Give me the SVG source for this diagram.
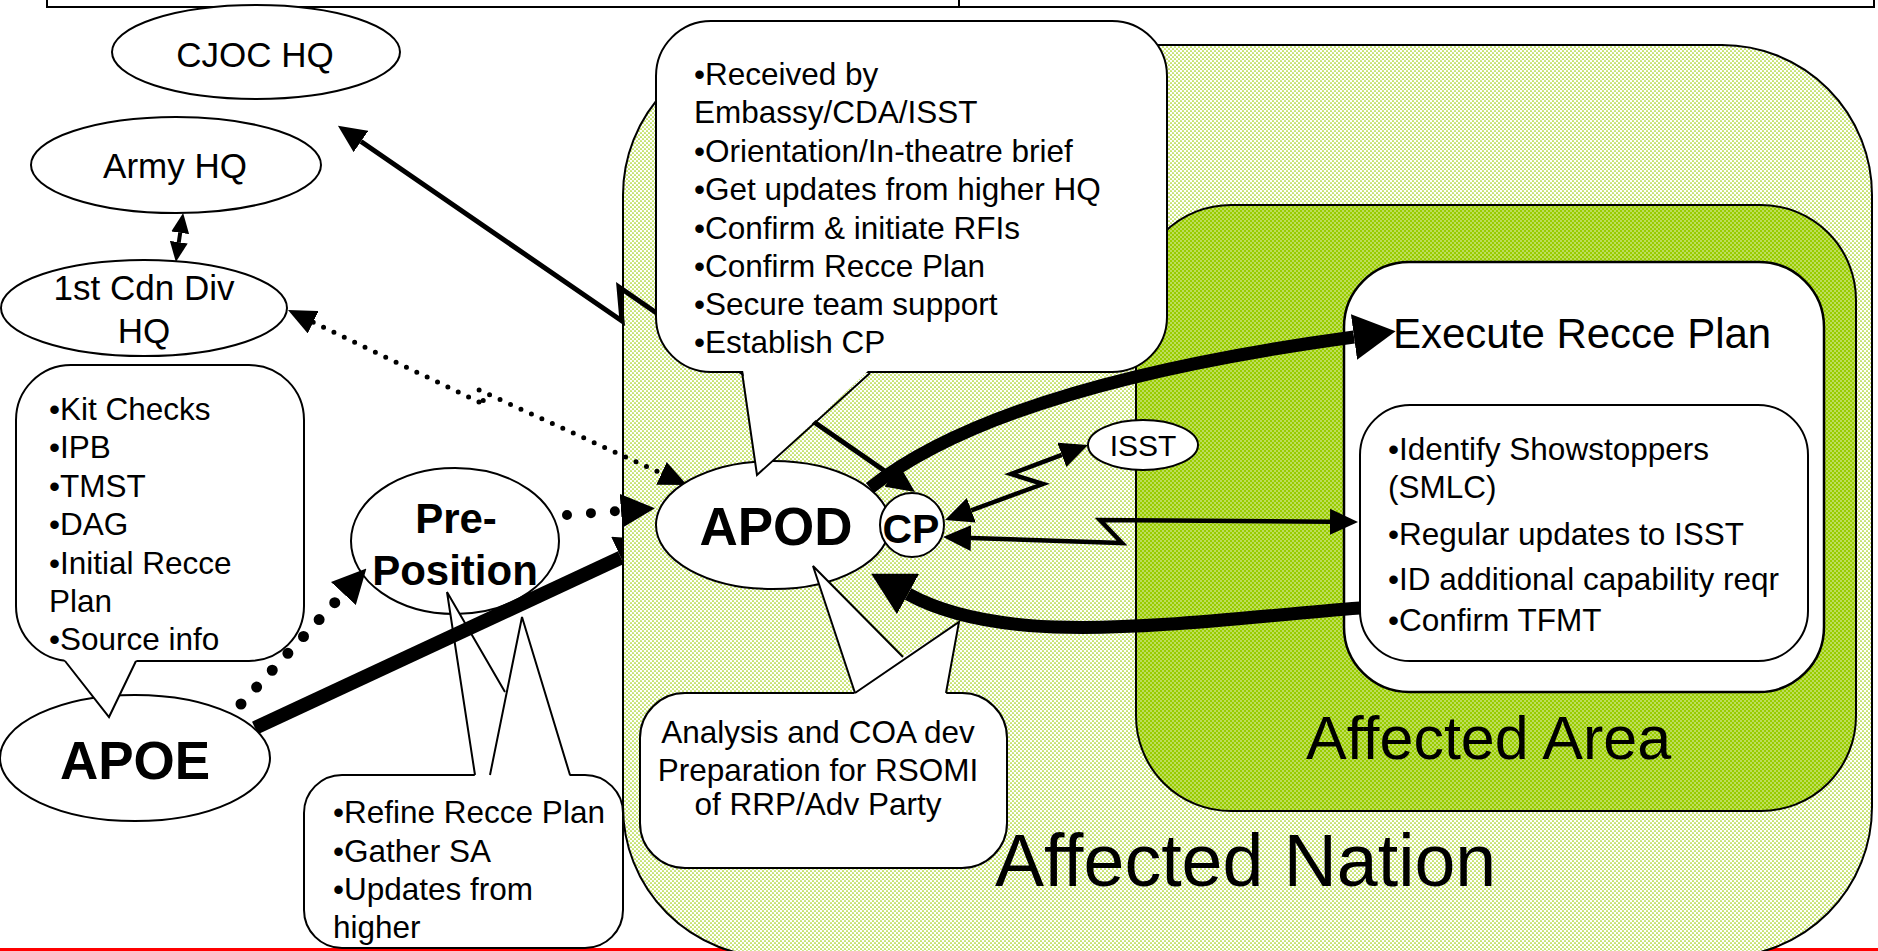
<svg xmlns="http://www.w3.org/2000/svg" width="1878" height="951" viewBox="0 0 1878 951">
<defs>
<style>
text{font-family:"Liberation Sans",Arial,sans-serif;fill:#000}
.t31{font-size:31.5px}
.lbl{font-size:35px;text-anchor:middle}
.bold{font-weight:bold;text-anchor:middle}
.node{fill:#fff;stroke:#000;stroke-width:2}
.co{fill:#fff;stroke:#000;stroke-width:2}
.ptr{fill:none;stroke:#000;stroke-width:2}
.cover{fill:#fff;stroke:none}
.ln{fill:none;stroke:#000;stroke-linejoin:miter}
.dot{fill:none;stroke:#000;stroke-linecap:round}
</style>
<pattern id="pNation" width="4" height="4" patternUnits="userSpaceOnUse">
<rect width="4" height="4" fill="#fff"/>
<circle cx="1" cy="1" r="0.85" fill="#99CC00"/>
<circle cx="3" cy="3" r="0.85" fill="#99CC00"/>
</pattern>
<pattern id="pArea" width="4" height="4" patternUnits="userSpaceOnUse">
<rect width="4" height="4" fill="#99CC00"/>
<circle cx="1" cy="1" r="0.7" fill="#fff"/>
<circle cx="3" cy="3" r="0.7" fill="#fff"/>
</pattern>
<marker id="aBig" markerUnits="userSpaceOnUse" markerWidth="42" markerHeight="46" viewBox="0 0 42 46" refX="0" refY="23" orient="auto-start-reverse"><path d="M0,0 L42,23 L0,46 z"/></marker>
<marker id="aMed" markerUnits="userSpaceOnUse" markerWidth="28" markerHeight="26" viewBox="0 0 28 26" refX="0" refY="13" orient="auto-start-reverse"><path d="M0,0 L28,13 L0,26 z"/></marker>
<marker id="aDot" markerUnits="userSpaceOnUse" markerWidth="28" markerHeight="25" viewBox="0 0 28 25" refX="0" refY="12.5" orient="auto-start-reverse"><path d="M0,0 L28,12.5 L0,25 z"/></marker>
<marker id="aDotBig" markerUnits="userSpaceOnUse" markerWidth="34" markerHeight="34" viewBox="0 0 34 34" refX="0" refY="17" orient="auto-start-reverse"><path d="M0,0 L34,17 L0,34 z"/></marker>
<marker id="aSmall" markerUnits="userSpaceOnUse" markerWidth="20" markerHeight="18" viewBox="0 0 20 18" refX="0" refY="9" orient="auto-start-reverse"><path d="M0,0 L20,9 L0,18 z"/></marker>
</defs>
<rect width="1878" height="951" fill="#fff"/>
<line x1="0" y1="949.5" x2="1878" y2="949.5" stroke="#FF0000" stroke-width="3"/>
<path d="M47 -2 V7 H1874 V-2 M959 -2 V7" fill="none" stroke="#000" stroke-width="2"/>

<g id="pre-position">
<ellipse class="node" cx="455" cy="541" rx="104" ry="73"/>
<text class="bold" x="456" y="533" style="font-size:42px">Pre-</text>
<text class="bold" x="455" y="585" style="font-size:42px">Position</text>
</g>

<g id="callout-preposition">
<rect class="co" x="304" y="775" width="319" height="173" rx="38"/>
<polygon class="cover" points="475,777 447,592 505,692 522,617 570,777"/>
<polyline class="ptr" points="475,775 447,592 505,692"/>
<polyline class="ptr" points="490,775 522,617 570,775"/>
<text class="t31" x="333" y="823">•Refine Recce Plan</text>
<text class="t31" x="333" y="862">•Gather SA</text>
<text class="t31" x="333" y="900">•Updates from</text>
<text class="t31" x="333" y="938">higher</text>
</g>

<g id="conn-apoe-apod">
<path class="ln" d="M255 728 L620.9 557.7" stroke-width="14" marker-end="url(#aBig)"/>
</g>

<g id="affected-nation">
<rect x="623" y="45" width="1249" height="912" rx="150" fill="url(#pNation)" stroke="#000" stroke-width="2"/>
<text x="995" y="886" style="font-size:73.5px">Affected Nation</text>
</g>

<g id="affected-area">
<rect x="1136" y="205" width="720" height="606" rx="95" fill="url(#pArea)" stroke="#000" stroke-width="2"/>
<text x="1306" y="759" style="font-size:61px">Affected Area</text>
</g>

<g id="execute-recce-plan">
<rect x="1344" y="262" width="480" height="430" rx="65" fill="#fff" stroke="#000" stroke-width="2.5"/>
<text x="1393" y="348" style="font-size:42px">Execute Recce Plan</text>
</g>

<g id="recce-tasks">
<rect x="1360" y="405" width="448" height="256" rx="50" fill="#fff" stroke="#000" stroke-width="2"/>
<text class="t31" x="1388" y="460">•Identify Showstoppers</text>
<text class="t31" x="1388" y="498">(SMLC)</text>
<text class="t31" x="1388" y="545">•Regular updates to ISST</text>
<text class="t31" x="1388" y="590">•ID additional capability reqr</text>
<text class="t31" x="1388" y="631">•Confirm TFMT</text>
</g>

<g id="connectors">
<path class="ln" d="M892 476 L619 287 L622 321 L361 141.5" stroke-width="5" marker-start="url(#aMed)" marker-end="url(#aMed)"/>
<path class="ln" d="M178.8 242.2 L180.2 232.8" stroke-width="4" marker-start="url(#aSmall)" marker-end="url(#aSmall)"/>
<path class="dot" d="M313.2 322.2 L485 405 L479 390 L661.5 473.4" stroke-width="5" stroke-dasharray="0 11.5" marker-start="url(#aDot)" marker-end="url(#aDot)"/>
<path class="dot" d="M241 704 L343.3 593.5" stroke-width="11" stroke-dasharray="0 23" marker-end="url(#aDotBig)"/>
<path class="dot" d="M567 515 L621 510.8" stroke-width="10" stroke-dasharray="0 24" marker-end="url(#aDotBig)"/>
<path class="ln" d="M870 488 Q1000 385 1354 337" stroke-width="13" marker-end="url(#aBig)"/>
<path class="ln" d="M1360 608 C1180 622 1010 650 908 594" stroke-width="13" marker-end="url(#aBig)"/>
<path class="ln" d="M971.3 510.3 L1043 484 L1011 474 L1061.8 454.9" stroke-width="4.5" marker-start="url(#aMed)" marker-end="url(#aMed)"/>
<path class="ln" d="M971 538 L1122 543 L1100 520 L1330 521.8" stroke-width="4.5" marker-start="url(#aMed)" marker-end="url(#aMed)"/>
</g>

<g id="cjoc-hq">
<ellipse class="node" cx="256" cy="52" rx="144" ry="47"/>
<text class="lbl" x="255" y="67">CJOC HQ</text>
</g>
<g id="army-hq">
<ellipse class="node" cx="176" cy="165" rx="145" ry="48"/>
<text class="lbl" x="175" y="178">Army HQ</text>
</g>
<g id="cdn-div-hq">
<ellipse class="node" cx="144" cy="308" rx="143" ry="48"/>
<text class="lbl" x="144" y="300">1st Cdn Div</text>
<text class="lbl" x="144" y="343">HQ</text>
</g>
<g id="apoe">
<ellipse class="node" cx="135" cy="758" rx="135" ry="63"/>
<text class="bold" x="135" y="779" style="font-size:53px">APOE</text>
</g>
<g id="apod">
<ellipse class="node" cx="773" cy="525" rx="117" ry="64"/>
<text class="bold" x="776" y="545" style="font-size:53px">APOD</text>
</g>
<g id="cp">
<circle class="node" cx="912" cy="525" r="32"/>
<text class="bold" x="911" y="543" style="font-size:41px">CP</text>
</g>
<g id="isst">
<ellipse class="node" cx="1143" cy="445" rx="55" ry="25"/>
<text x="1143" y="456" style="font-size:30px;text-anchor:middle">ISST</text>
</g>

<g id="callout-apod-arrival">
<rect class="co" x="656" y="21" width="511" height="351" rx="55"/>
<polygon class="cover" points="743,370 757,475 869,370"/>
<polyline class="ptr" points="742,372 757,475 870,373"/>
<text class="t31" x="694" y="85">•Received by</text>
<text class="t31" x="694" y="123">Embassy/CDA/ISST</text>
<text class="t31" x="694" y="162">•Orientation/In-theatre brief</text>
<text class="t31" x="694" y="200">•Get updates from higher HQ</text>
<text class="t31" x="694" y="239">•Confirm &amp; initiate RFIs</text>
<text class="t31" x="694" y="277">•Confirm Recce Plan</text>
<text class="t31" x="694" y="315">•Secure team support</text>
<text class="t31" x="694" y="353">•Establish CP</text>
</g>

<g id="callout-apoe">
<rect class="co" x="16" y="365" width="288" height="296" rx="55"/>
<polygon class="cover" points="64,659 109,717 137,659"/>
<polyline class="ptr" points="65,661 109,717 136,661"/>
<text class="t31" x="49" y="420">•Kit Checks</text>
<text class="t31" x="49" y="458">•IPB</text>
<text class="t31" x="49" y="497">•TMST</text>
<text class="t31" x="49" y="535">•DAG</text>
<text class="t31" x="49" y="574">•Initial Recce</text>
<text class="t31" x="49" y="612">Plan</text>
<text class="t31" x="49" y="650">•Source info</text>
</g>

<g id="callout-analysis">
<rect class="co" x="640" y="693" width="367" height="175" rx="45"/>
<polygon class="cover" points="855,695 813,566 903,657 959,622 946,695"/>
<polyline class="ptr" points="855,693 813,566 903,657"/>
<polyline class="ptr" points="855,693 959,622 946,693"/>
<text class="t31" x="818" y="743" text-anchor="middle">Analysis and COA dev</text>
<text class="t31" x="818" y="781" text-anchor="middle">Preparation for RSOMI</text>
<text class="t31" x="818" y="815" text-anchor="middle">of RRP/Adv Party</text>
</g>
</svg>
